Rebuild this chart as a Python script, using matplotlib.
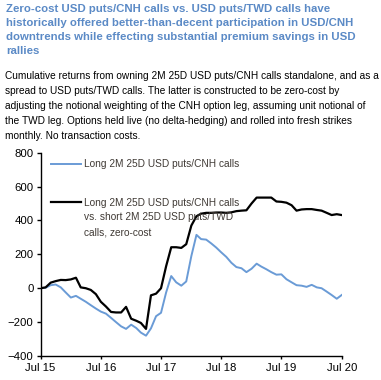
import numpy as np
import pandas as pd
import matplotlib
matplotlib.use("Agg")
import matplotlib.pyplot as plt
import matplotlib.dates as mdates

# monthly points, Jul 2015 - Jul 2020
dates = pd.date_range("2015-07-01", "2020-07-01", freq="MS")

cnh_calls = [0, 3, 18, 22, 5, -25, -55, -45, -62, -80,
             -100, -120, -138, -150, -175, -200, -225, -240, -215, -235,
             -262, -280, -237, -165, -145, -25, 72, 35, 15, 40,
             190, 315, 290, 287, 265, 240, 212, 185, 150, 125,
             118, 95, 115, 145, 128, 112, 95, 80, 82, 53,
             35, 18, 15, 8, 20, 5, 0, -20, -40, -62,
             -40]

zero_cost = [0, 5, 33, 42, 49, 48, 52, 62, 5, 0,
             -10, -35, -80, -108, -140, -143, -143, -110, -180, -192,
             -205, -240, -42, -32, 0, 130, 242, 242, 238, 260,
             370, 425, 440, 445, 445, 447, 447, 445, 448, 455,
             458, 460, 500, 535, 535, 535, 535, 512, 510, 505,
             490, 458, 465, 467, 467, 462, 458, 445, 432, 437,
             432]

label_cnh = "Long 2M 25D USD puts/CNH calls"
label_zc = "Long 2M 25D USD puts/CNH calls"
label_zc_rest = "vs. short 2M 25D USD puts/TWD\ncalls, zero-cost"

title = ("Zero-cost USD puts/CNH calls vs. USD puts/TWD calls have\n"
         "historically offered better-than-decent participation in USD/CNH\n"
         "downtrends while effecting substantial premium savings in USD\n"
         "rallies")
subtitle = ("Cumulative returns from owning 2M 25D USD puts/CNH calls standalone, and as a\n"
            "spread to USD puts/TWD calls. The latter is constructed to be zero-cost by\n"
            "adjusting the notional weighting of the CNH option leg, assuming unit notional of\n"
            "the TWD leg. Options held live (no delta-hedging) and rolled into fresh strikes\n"
            "monthly. No transaction costs.")

plt.rcParams['font.family'] = ['Liberation Sans', 'DejaVu Sans']
narrow = ['Liberation Sans Narrow', 'Liberation Sans']

fig = plt.figure(figsize=(3.81, 3.80), dpi=100)
fig.text(0.016, 0.99, title, ha='left', va='top', fontsize=8.2, fontweight='bold',
         color='#5b8ac6', linespacing=1.5)
fig.text(0.012, 0.812, subtitle, ha='left', va='top', fontsize=7.3,
         color='black', linespacing=1.6)

ax = fig.add_axes([40.5 / 381, 1 - 356 / 380, (341.7 - 40.5) / 381, (356 - 152.7) / 380])
ax.plot(dates, cnh_calls, color='#6a9bd6', lw=1.4, label=label_cnh)
ax.plot(dates, zero_cost, color='black', lw=1.6, label=label_zc)

ax.set_ylim(-400, 800)
ax.set_yticks(range(-400, 801, 200))
ax.set_xlim(dates[0], dates[-1])
ax.xaxis.set_major_locator(mdates.MonthLocator(bymonth=7))
ax.xaxis.set_major_formatter(mdates.DateFormatter("Jul %y"))

for s in ['top', 'right']:
    ax.spines[s].set_visible(False)
for s in ['left', 'bottom']:
    ax.spines[s].set_linewidth(1.0)
ax.tick_params(axis='y', direction='out', length=3, width=1, pad=2, labelsize=8.2)
ax.tick_params(axis='x', direction='out', length=2, width=1, pad=3, labelsize=8.2)
for lab in ax.get_xticklabels() + ax.get_yticklabels():
    lab.set_family(narrow)

leg = ax.legend(loc='upper left', bbox_to_anchor=(0.02, 0.988), frameon=False,
                prop={'family': narrow, 'size': 7.3}, handlelength=3.0,
                handletextpad=0.25, labelspacing=2.8, borderaxespad=0)
for t in leg.get_texts():
    t.set_color('#403a35')

# continuation lines of the second legend entry, hung under its first line
# (zorder above the legend so the legend is laid out first)
ax.annotate(label_zc_rest, xy=(0, 0), xycoords=leg.get_texts()[1],
            xytext=(0, -3.2), textcoords='offset points', ha='left', va='top',
            fontsize=7.3, family=narrow, color='#403a35', linespacing=1.7,
            zorder=10)

fig.savefig("out.png", dpi=100)
